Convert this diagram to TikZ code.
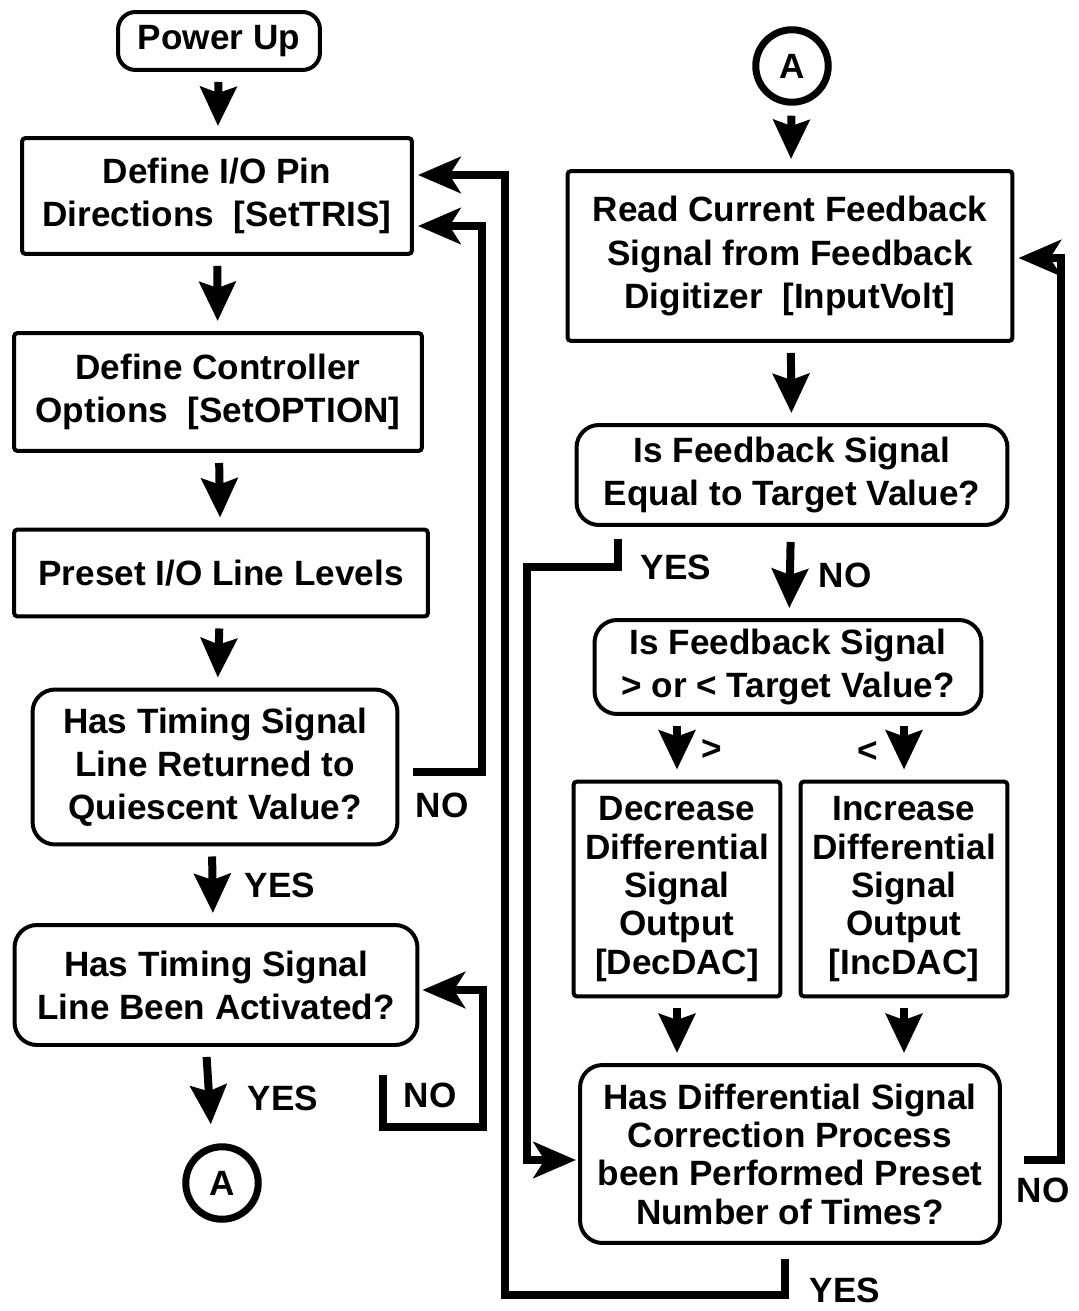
\documentclass[tikz,border=0pt]{standalone}
\usepackage{fontspec}
\setmainfont{Liberation Sans}
\usepackage{tikz}
\usetikzlibrary{shapes,arrows,positioning,calc,arrows.meta}

\begin{document}
\begin{tikzpicture}[x=0.02cm, y=-0.02cm,
        font=\bfseries\fontsize{20}{24.5}\selectfont,
        procbox/.style={draw, line width=0.08cm, rounded corners=2pt, align=center, inner sep=0pt},
        testbox/.style={draw, line width=0.08cm, rounded corners=0.45cm, align=center, inner sep=0pt},
        tight/.style={font=\bfseries\fontsize{20}{21.8}\selectfont},
        connector/.style={draw, circle, line width=0.14cm, minimum size=1.45cm, inner sep=0pt},
        flow/.style={line width=0.16cm, -{Stealth[length=0.78cm, width=0.72cm, inset=0.12cm]}, shorten <=0.2cm, shorten >=0.2cm},
        loopline/.style={line width=0.17cm, -{Stealth[length=0.85cm, width=0.72cm, inset=0.22cm]}}]
        \useasboundingbox (0,0) rectangle (1078,1311);

        % left column
        \node[procbox, rounded corners=0.35cm, minimum width=4.04cm, minimum height=1.16cm] (power) at (219,41) {Power Up};
        \node[procbox, minimum width=7.8cm, minimum height=2.32cm] (tris) at (217,196) {Define I/O Pin\\Directions\hspace{0.55em}[SetTRIS]};
        \node[procbox, minimum width=8.16cm, minimum height=2.36cm] (option) at (218,392) {Define Controller\\Options\hspace{0.55em}[SetOPTION]};
        \node[procbox, minimum width=8.28cm, minimum height=1.74cm] (preset) at (221,573) {Preset I/O Line Levels};
        \node[testbox, minimum width=7.3cm, minimum height=3.1cm] (quiesc) at (215,767) {Has Timing Signal\\Line Returned to\\Quiescent Value?};
        \node[testbox, minimum width=8.06cm, minimum height=2.4cm] (activ) at (216,985) {Has Timing Signal\\Line Been Activated?};
        \node[connector] (contA) at (222,1183) {A};

        % right column
        \node[connector] (startA) at (792,66) {A};
        \node[procbox, minimum width=8.9cm, minimum height=3.4cm] (readfb) at (790,256) {Read Current Feedback\\Signal from Feedback\\Digitizer\hspace{0.55em}[InputVolt]};
        \node[testbox, minimum width=8.62cm, minimum height=2cm] (equal) at (792,475) {Is Feedback Signal\\Equal to Target Value?};
        \node[testbox, minimum width=7.74cm, minimum height=1.88cm] (compare) at (788,667) {Is Feedback Signal\\> or < Target Value?};
        \node[procbox, tight, minimum width=4.14cm, minimum height=4.3cm] (decr) at (677,889) {Decrease\\Differential\\Signal\\Output\\{[DecDAC]}};
        \node[procbox, tight, minimum width=4.14cm, minimum height=4.3cm] (incr) at (904,889) {Increase\\Differential\\Signal\\Output\\{[IncDAC]}};
        \node[testbox, tight, minimum width=8.4cm, minimum height=3.56cm] (rpt) at (790,1154) {Has Differential Signal\\Correction Process\\been Performed Preset\\Number of Times?};

        % straight arrows
        \draw[flow] (power) -- (tris);
        \draw[flow] (tris) -- (option);
        \draw[flow] (option) -- (preset);
        \draw[flow] (preset) -- (quiesc);
        \draw[flow] ([xshift=-0.06cm]quiesc.south) -- ([xshift=-0.06cm]activ.north);
        \draw[flow, shorten >=0.38cm] ([xshift=-0.2cm]activ.south) -- ([xshift=-0.2cm]contA.north);
        \draw[flow] (startA) -- (readfb);
        \draw[flow] (readfb) -- (equal);
        \draw[flow, shorten <=0.3cm] (equal) -- (compare);
        \draw[flow] (decr |- compare.south) -- (decr);
        \draw[flow] (incr |- compare.south) -- (incr);
        \draw[flow] (decr) -- (decr |- rpt.north);
        \draw[flow] (incr) -- (incr |- rpt.north);

        % labels
        \node (noQ) at (442,805) {NO};
        \node (yesQ) at (280,885) {YES};
        \node (yesA) at (283,1098) {YES};
        \node (noA) at (430,1095) {NO};
        \node (yesE) at (676,567) {YES};
        \node (noE) at (845,575) {NO};
        \node (gtC) at (712,750) {>};
        \node (ltC) at (868,752) {<};
        \node (noR) at (1043,1190) {NO};
        \node (yesR) at (845,1290) {YES};

        % return paths
        \coordinate (qturn) at (482,772);
        \draw[loopline] ($(quiesc.east)+(14,5)$) -- (qturn) |- ($(tris.east)+(4,30)$);
        \coordinate (astart) at (383,1075);
        \coordinate (aturn) at (483,1127);
        \draw[loopline] (astart) |- (aturn) |- ($(activ.east)+(3,5)$);
        \coordinate (eturn) at (527,567);
        \draw[loopline] ($(equal.south)+(-174,12)$) |- (eturn) |- ($(rpt.west)+(-2,6)$);
        \coordinate (rturn) at (1061,1160);
        \draw[loopline] ($(rpt.east)+(22,6)$) -- (rturn) |- ($(readfb.east)+(4,2)$);
        \coordinate (yturn) at (505,1295);
        \draw[loopline] ($(rpt.south)+(-5,14)$) |- (yturn) |- ($(tris.east)+(4,-21)$);
    \end{tikzpicture}
\end{document}
